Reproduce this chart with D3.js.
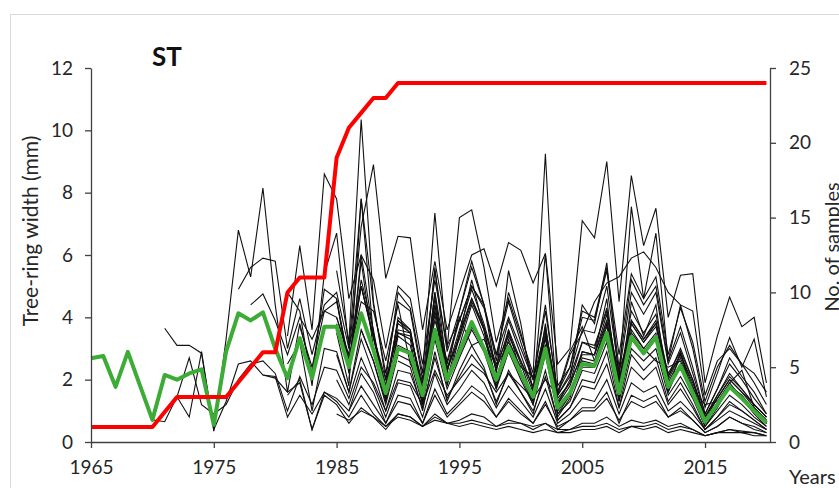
<!DOCTYPE html>
<html>
<head>
<meta charset="utf-8">
<script src="https://cdn.jsdelivr.net/npm/d3@7"></script>
<style>
  body { margin: 0; background: #fff; }
  svg { display: block; font-family: Lato, "Open Sans", sans-serif; }
</style>
</head>
<body>
<svg id="chart" width="839" height="488"></svg>
<script>
// tick labels
const yearTicks = [1965, 1975, 1985, 1995, 2005, 2015];
const widthTicks = [0, 2, 4, 6, 8, 10, 12];
const sampleTicks = [0, 5, 10, 15, 20, 25];

// number of samples, 1965..2020
const sampleCount = [1, 1, 1, 1, 1, 1, 2, 3, 3, 3, 3, 3, 4, 5, 6, 6,
    10, 11, 11, 11, 19, 21, 22, 23, 23, 24, 24, 24, 24, 24, 24, 24, 24, 24, 24, 24,
    24, 24, 24, 24, 24, 24, 24, 24, 24, 24, 24, 24, 24, 24, 24, 24, 24, 24, 24, 24];

// mean ring width, 1965..2020
const meanWidth = [2.69, 2.76, 1.77, 2.89, 1.8, 0.71, 2.15, 2.0, 2.2, 2.33, 0.55, 2.9, 4.13, 3.9, 4.16, 3.0,
    2.05, 3.33, 2.05, 3.7, 3.7, 2.4, 4.13, 2.95, 1.57, 3.0, 2.85, 1.5, 3.6, 2.0, 2.9, 3.85, 3.0, 2.0, 3.05, 2.2,
    1.45, 3.0, 1.1, 1.57, 2.5, 2.45, 3.5, 1.57, 3.37, 2.85, 3.37, 1.77, 2.45, 1.57, 0.65, 1.2, 1.77, 1.4, 1.0, 0.62];

// first year of each sample
const seriesStart = [1965, 1971, 1972, 1977, 1978, 1979, 1981, 1981, 1981, 1981, 1982,
    1985, 1985, 1985, 1985, 1985, 1985, 1985, 1985, 1986, 1986, 1987, 1988, 1990];

// ring widths of each sample (mm), from its first year to 2020
const ringWidths = [
    [2.69, 2.76, 1.77, 2.89, 1.8, 0.71, 0.65, 1.45, 0.8, 2.9, 0.4, 1.3, 2.5, 2.6, 2.15, 2.1,
     0.8, 1.5, 0.9, 1.6, 1.4, 1.0, 1.8, 1.2, 0.6, 1.3, 1.2, 0.6, 1.5, 0.8, 1.2, 1.6, 1.3, 0.8, 1.3, 0.9,
     0.6, 1.2, 0.5, 0.7, 1.0, 1.0, 1.4, 0.7, 1.3, 1.1, 1.3, 0.8, 1.0, 0.7, 0.3, 0.5, 0.8, 0.6, 0.4, 0.3],
    [3.65, 3.1, 3.1, 2.85, 0.35, 3.3, 6.8, 5.3, 8.15, 4.4,
     1.6, 3.8, 2.2, 4.9, 4.6, 2.5, 5.2, 3.6, 1.4, 3.5, 3.3, 1.2, 4.1, 1.9, 3.1, 4.4, 3.4, 1.9, 3.3, 2.3,
     1.3, 3.1, 0.9, 1.5, 2.6, 2.5, 3.8, 1.4, 3.6, 3.0, 3.5, 1.6, 2.5, 1.5, 0.6, 1.1, 1.8, 1.4, 0.9, 0.5],
    [1.45, 2.7, 1.2, 0.9, 1.2, 2.0, 2.5, 2.6, 2.2,
     1.0, 2.1, 1.2, 2.4, 2.3, 1.4, 2.7, 1.8, 0.8, 1.9, 1.8, 0.8, 2.2, 1.2, 1.7, 2.3, 1.9, 1.1, 1.8, 1.3,
     0.8, 1.7, 0.6, 0.9, 1.4, 1.3, 2.0, 0.9, 1.9, 1.6, 1.8, 1.0, 1.3, 0.9, 0.4, 0.7, 1.0, 0.8, 0.6, 0.4],
    [4.9, 5.6, 5.9, 5.8,
     3.0, 4.6, 2.8, 4.4, 4.8, 3.0, 5.0, 3.4, 2.0, 3.5, 3.4, 1.9, 4.2, 2.4, 3.3, 4.5, 3.6, 2.5, 3.4, 2.6,
     1.8, 3.3, 1.4, 1.9, 2.8, 2.8, 3.9, 1.9, 3.8, 3.2, 3.7, 2.1, 2.8, 1.9, 0.8, 1.4, 2.0, 1.6, 1.2, 0.8],
    [4.4, 4.75, 3.9,
     2.8, 4.0, 3.3, 4.2, 4.0, 2.7, 4.5, 4.2, 2.6, 4.4, 2.5, 1.9, 3.9, 2.6, 4.0, 3.1, 3.3, 2.4, 3.2, 2.4,
     2.1, 3.1, 1.6, 2.9, 3.7, 2.6, 3.7, 2.3, 3.5, 3.0, 2.6, 2.4, 2.6, 1.7, 1.2, 1.3, 1.9, 2.3, 1.1, 0.7],
    [2.15, 2.05,
     1.6, 1.9, 0.4, 1.5, 1.2, 0.6, 1.1, 0.8, 0.4, 0.9, 0.8, 0.5, 0.9, 0.6, 0.7, 0.9, 0.8, 0.5, 0.7, 0.6,
     0.4, 0.6, 0.3, 0.4, 0.6, 0.6, 0.8, 0.5, 0.7, 0.6, 0.7, 0.5, 0.6, 0.4, 0.2, 0.3, 0.4, 0.35, 0.3, 0.2],
    [3.4, 6.3, 3.6, 8.6, 7.8, 4.6, 6.0, 5.2, 3.0, 5.0, 4.6, 2.5, 5.2, 3.1, 3.9, 5.0, 4.3, 2.8, 4.0, 3.0,
     2.0, 3.6, 1.5, 2.1, 3.2, 3.1, 4.2, 2.0, 3.9, 3.3, 3.8, 2.2, 2.9, 2.0, 0.8, 1.5, 2.1, 1.7, 1.2, 0.8],
    [4.8, 4.2, 1.8, 5.4, 6.7, 3.0, 7.8, 4.4, 2.2, 4.5, 4.2, 2.0, 5.5, 2.9, 4.2, 5.6, 4.4, 2.8, 4.5, 3.2,
     2.0, 4.4, 1.5, 2.2, 3.6, 3.5, 5.0, 2.2, 4.8, 4.1, 4.8, 2.5, 3.5, 2.2, 0.9, 1.7, 2.5, 2.0, 1.4, 0.9],
    [2.5, 3.2, 1.0, 3.0, 2.9, 1.6, 3.3, 2.2, 1.0, 2.3, 2.2, 1.1, 2.7, 1.4, 2.1, 2.8, 2.3, 1.3, 2.2, 1.6,
     1.0, 2.1, 0.7, 1.1, 1.8, 1.7, 2.5, 1.1, 2.4, 2.0, 2.4, 1.2, 1.7, 1.1, 0.4, 0.8, 1.2, 1.0, 0.7, 0.4],
    [1.5, 2.0, 0.4, 1.6, 1.3, 0.8, 1.5, 0.9, 0.5, 0.9, 0.8, 0.5, 0.8, 0.6, 0.6, 0.7, 0.6, 0.5, 0.6, 0.6,
     0.5, 0.6, 0.4, 0.4, 0.5, 0.5, 0.6, 0.4, 0.5, 0.5, 0.6, 0.4, 0.5, 0.4, 0.2, 0.3, 0.4, 0.3, 0.3, 0.2],
    [3.7, 2.4, 4.2, 4.5, 2.6, 5.0, 3.4, 1.8, 3.6, 3.5, 1.7, 4.4, 2.3, 3.4, 4.6, 3.7, 2.3, 3.6, 2.6,
     1.6, 3.5, 1.2, 1.8, 2.9, 2.8, 4.1, 1.8, 3.9, 3.3, 3.9, 2.0, 2.8, 1.8, 0.7, 1.4, 2.0, 1.6, 1.1, 0.7],
    [5.5, 3.2, 10.35, 4.5, 2.0, 4.8, 4.3, 2.2, 7.35, 3.0, 7.2, 7.45, 5.6, 3.2, 4.6, 3.4,
     2.2, 9.25, 1.8, 2.4, 4.0, 3.9, 5.5, 2.4, 5.2, 4.4, 5.0, 2.6, 3.7, 2.4, 0.9, 1.7, 2.7, 2.1, 1.6, 0.9],
    [4.0, 2.8, 6.9, 8.9, 5.25, 6.6, 6.55, 3.6, 5.8, 3.6, 4.8, 6.0, 6.2, 5.0, 6.4, 6.15,
     5.1, 6.05, 2.5, 3.0, 7.1, 6.55, 9.0, 4.5, 8.55, 6.3, 7.5, 4.0, 5.35, 5.4, 1.9, 3.4, 4.65, 3.7, 4.0, 1.9],
    [3.5, 1.8, 7.8, 3.4, 1.5, 4.0, 3.6, 1.6, 5.6, 2.2, 4.2, 5.8, 4.4, 2.2, 5.5, 3.8,
     1.6, 6.05, 1.2, 2.0, 4.4, 3.8, 5.75, 2.0, 7.55, 4.6, 6.7, 2.6, 4.4, 3.0, 1.1, 2.2, 3.35, 2.4, 3.3, 1.45],
    [3.8, 2.5, 5.0, 3.3, 1.8, 3.8, 3.5, 1.7, 4.6, 2.3, 3.6, 4.9, 3.8, 2.4, 3.9, 2.8,
     1.7, 3.7, 1.3, 1.9, 3.2, 3.0, 4.3, 1.9, 4.2, 3.5, 4.1, 2.1, 3.0, 2.0, 0.8, 1.5, 2.2, 1.7, 1.2, 0.8],
    [2.0, 1.2, 2.4, 1.9, 1.0, 2.0, 1.9, 1.2, 2.3, 1.5, 2.0, 2.5, 2.2, 1.6, 2.2, 1.8,
     1.4, 2.0, 1.5, 2.8, 3.5, 4.5, 5.1, 5.3, 5.9, 6.1, 5.6, 4.8, 4.4, 4.2, 1.5, 2.6, 3.0, 2.5, 2.2, 1.6],
    [0.9, 0.7, 1.0, 0.8, 0.5, 0.8, 0.7, 0.5, 0.7, 0.6, 0.5, 0.6, 0.5, 0.4, 0.5, 0.4,
     0.3, 0.4, 0.3, 0.3, 0.4, 0.4, 0.5, 0.3, 0.5, 0.4, 0.5, 0.3, 0.4, 0.3, 0.2, 0.3, 0.3, 0.3, 0.2, 0.2],
    [4.6, 2.2, 5.8, 3.0, 1.3, 3.4, 3.1, 1.3, 4.8, 1.8, 3.4, 5.2, 3.6, 1.7, 3.6, 2.2,
     1.2, 3.8, 0.8, 1.4, 2.9, 2.8, 4.6, 1.3, 4.5, 3.4, 4.4, 1.6, 2.9, 1.5, 0.5, 1.1, 1.9, 1.4, 1.0, 0.6],
    [2.8, 1.6, 3.6, 2.6, 1.2, 2.8, 2.6, 1.2, 3.3, 1.7, 2.7, 3.6, 2.9, 1.7, 2.9, 2.0,
     1.2, 2.8, 0.9, 1.3, 2.3, 2.2, 3.2, 1.3, 3.0, 2.6, 3.0, 1.5, 2.1, 1.4, 0.5, 1.0, 1.5, 1.2, 0.8, 0.5],
    [2.0, 6.0, 3.5, 1.6, 3.9, 3.6, 1.4, 4.4, 2.0, 3.5, 4.6, 3.6, 2.0, 3.5, 2.5,
     1.4, 3.4, 1.0, 1.6, 2.7, 2.6, 3.9, 1.5, 3.8, 3.2, 3.8, 1.9, 2.7, 1.7, 0.6, 1.2, 1.8, 1.5, 1.0, 0.6],
    [1.0, 2.2, 1.6, 0.6, 1.5, 1.4, 0.6, 1.7, 0.9, 1.3, 1.8, 1.5, 0.8, 1.4, 1.0,
     0.6, 1.3, 0.4, 0.7, 1.1, 1.1, 1.6, 0.6, 1.5, 1.3, 1.5, 0.8, 1.1, 0.7, 0.3, 0.5, 0.8, 0.6, 0.5, 0.3],
    [3.6, 2.6, 1.3, 3.1, 2.9, 1.3, 3.5, 1.9, 2.8, 3.7, 3.0, 1.8, 3.0, 2.1,
     1.3, 3.0, 1.0, 1.5, 2.4, 2.4, 3.4, 1.5, 3.3, 2.8, 3.3, 1.8, 2.4, 1.6, 0.6, 1.2, 1.8, 1.4, 1.0, 0.6],
    [3.0, 1.8, 3.9, 3.5, 1.6, 4.8, 2.5, 3.9, 5.0, 4.4, 2.6, 4.8, 3.5,
     2.0, 4.2, 1.6, 2.4, 4.2, 4.0, 5.6, 2.8, 5.4, 4.6, 5.3, 2.8, 4.3, 3.2, 1.3, 2.4, 3.1, 2.5, 1.9, 1.2],
    [2.6, 2.4, 1.0, 2.9, 1.3, 2.3, 3.1, 2.4, 1.2, 2.3, 1.6,
     0.9, 2.3, 0.7, 1.1, 2.0, 1.9, 2.9, 1.1, 2.8, 2.3, 2.7, 1.3, 1.9, 1.2, 0.4, 0.8, 1.3, 1.0, 0.7, 0.4]
];

const firstYear = 1965;

const svg = d3.select("#chart");

// outer frame
svg.append("rect")
    .attr("x", 10.5)
    .attr("y", 14.5)
    .attr("width", 840)
    .attr("height", 480)
    .attr("fill", "none")
    .attr("stroke", "#d9d9d9");

const x = d3.scaleLinear().domain([1965, 2020.29]).range([91, 770]);
const yLeft = d3.scaleLinear().domain([0, 12]).range([442, 68]);
const yRight = d3.scaleLinear().domain([0, 25]).range([442, 68]);

// individual samples
const sampleLine = d3.line()
    .x((d) => x(d.year))
    .y((d) => yLeft(d.value));

const samples = ringWidths.map((vals, i) =>
    vals.map((v, j) => ({ year: seriesStart[i] + j, value: v }))
);

svg.append("g")
    .selectAll("path")
    .data(samples)
    .enter()
    .append("path")
    .attr("d", sampleLine)
    .attr("fill", "none")
    .attr("stroke", "#111")
    .attr("stroke-width", 1.1);

// mean chronology
const meanData = meanWidth.map((v, i) => ({ year: firstYear + i, value: v }));
svg.append("path")
    .datum(meanData)
    .attr("d", sampleLine)
    .attr("fill", "none")
    .attr("stroke", "#3cac37")
    .attr("stroke-width", 4)
    .attr("stroke-linejoin", "round");

// sample depth
const countData = sampleCount.map((v, i) => ({ year: firstYear + i, value: v }));
const countLine = d3.line()
    .x((d) => x(d.year))
    .y((d) => yRight(d.value));
svg.append("path")
    .datum(countData)
    .attr("d", countLine)
    .attr("fill", "none")
    .attr("stroke", "#ff0000")
    .attr("stroke-width", 4)
    .attr("stroke-linejoin", "round");

// axes
function styleAxis(g) {
    g.select(".domain").attr("stroke", "#404040").attr("stroke-width", 1.3);
    g.selectAll(".tick line").attr("stroke", "#404040").attr("stroke-width", 1.3);
    g.selectAll(".tick text")
        .attr("fill", "#262626")
        .style("font-size", "19px")
        .style("font-family", "Lato, 'Open Sans', sans-serif");
}

svg.append("g")
    .attr("transform", "translate(0,442)")
    .call(d3.axisBottom(x).tickValues(yearTicks).tickFormat(d3.format("d"))
        .tickSizeInner(6).tickSizeOuter(0).tickPadding(13))
    .call(styleAxis);

svg.append("g")
    .attr("transform", "translate(91,0)")
    .call(d3.axisLeft(yLeft).tickValues(widthTicks)
        .tickSizeInner(6).tickSizeOuter(0).tickPadding(12))
    .call(styleAxis);

svg.append("g")
    .attr("transform", "translate(770,0)")
    .call(d3.axisRight(yRight).tickValues(sampleTicks)
        .tickSizeInner(6).tickSizeOuter(0).tickPadding(13))
    .call(styleAxis);

// titles
svg.append("text")
    .attr("x", 152)
    .attr("y", 66)
    .attr("font-size", 26)
    .attr("font-weight", "bold")
    .attr("fill", "#111")
    .text("ST");

svg.append("text")
    .attr("transform", "translate(38,231) rotate(-90)")
    .attr("text-anchor", "middle")
    .attr("font-size", 21)
    .attr("fill", "#262626")
    .text("Tree-ring width (mm)");

svg.append("text")
    .attr("transform", "translate(839,247) rotate(-90)")
    .attr("text-anchor", "middle")
    .attr("font-size", 20)
    .attr("fill", "#262626")
    .text("No. of samples");

svg.append("text")
    .attr("x", 789)
    .attr("y", 484)
    .attr("font-size", 20)
    .attr("fill", "#262626")
    .text("Years");
</script>
</body>
</html>
